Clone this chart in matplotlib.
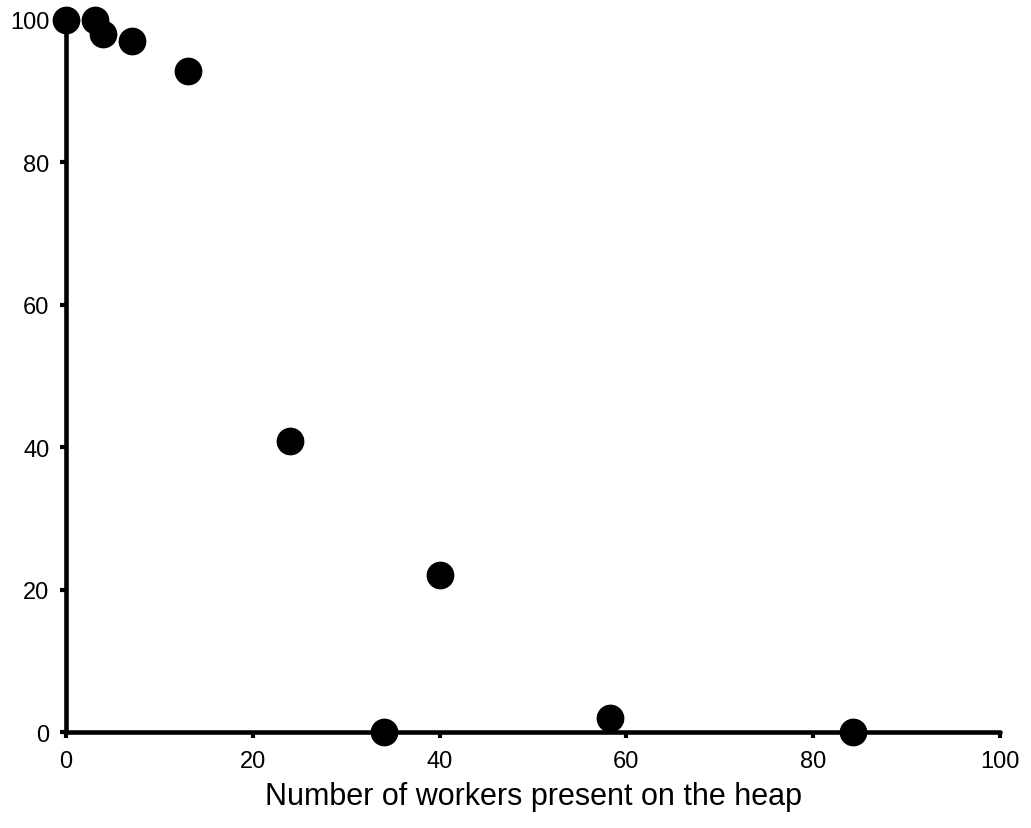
import matplotlib.pyplot as plt

plt.rcParams['font.family'] = ['Liberation Sans', 'DejaVu Sans']

# workers on heap vs percentage
workers = [0, 3.1, 4, 7.1, 13.1, 24, 40, 34, 58.2, 84.3]
percent = [100, 100, 98, 97, 92.9, 40.8, 22.1, 0, 1.9, 0]

fig = plt.figure(figsize=(10.31, 8.29), dpi=100)
ax = fig.add_axes([0.064, 0.1158, 0.906, 0.8589])

ax.scatter(workers, percent, s=360, color='black', clip_on=False, zorder=3)

ax.set_xlim(0, 100)
ax.set_ylim(0, 100)
ax.set_xticks([0, 20, 40, 60, 80, 100])
ax.set_yticks([0, 20, 40, 60, 80, 100])

for side in ['top', 'right']:
    ax.spines[side].set_visible(False)
for side in ['left', 'bottom']:
    ax.spines[side].set_linewidth(3.3)
    ax.spines[side].set_capstyle('round')

ax.tick_params(direction='out', length=4, width=3, labelsize=17)
ax.tick_params(axis='x', pad=9)
ax.tick_params(axis='y', pad=8)
ax.set_xlabel('Number of workers present on the heap', fontsize=22, labelpad=6.5)

fig.savefig('out.png', dpi=100)
